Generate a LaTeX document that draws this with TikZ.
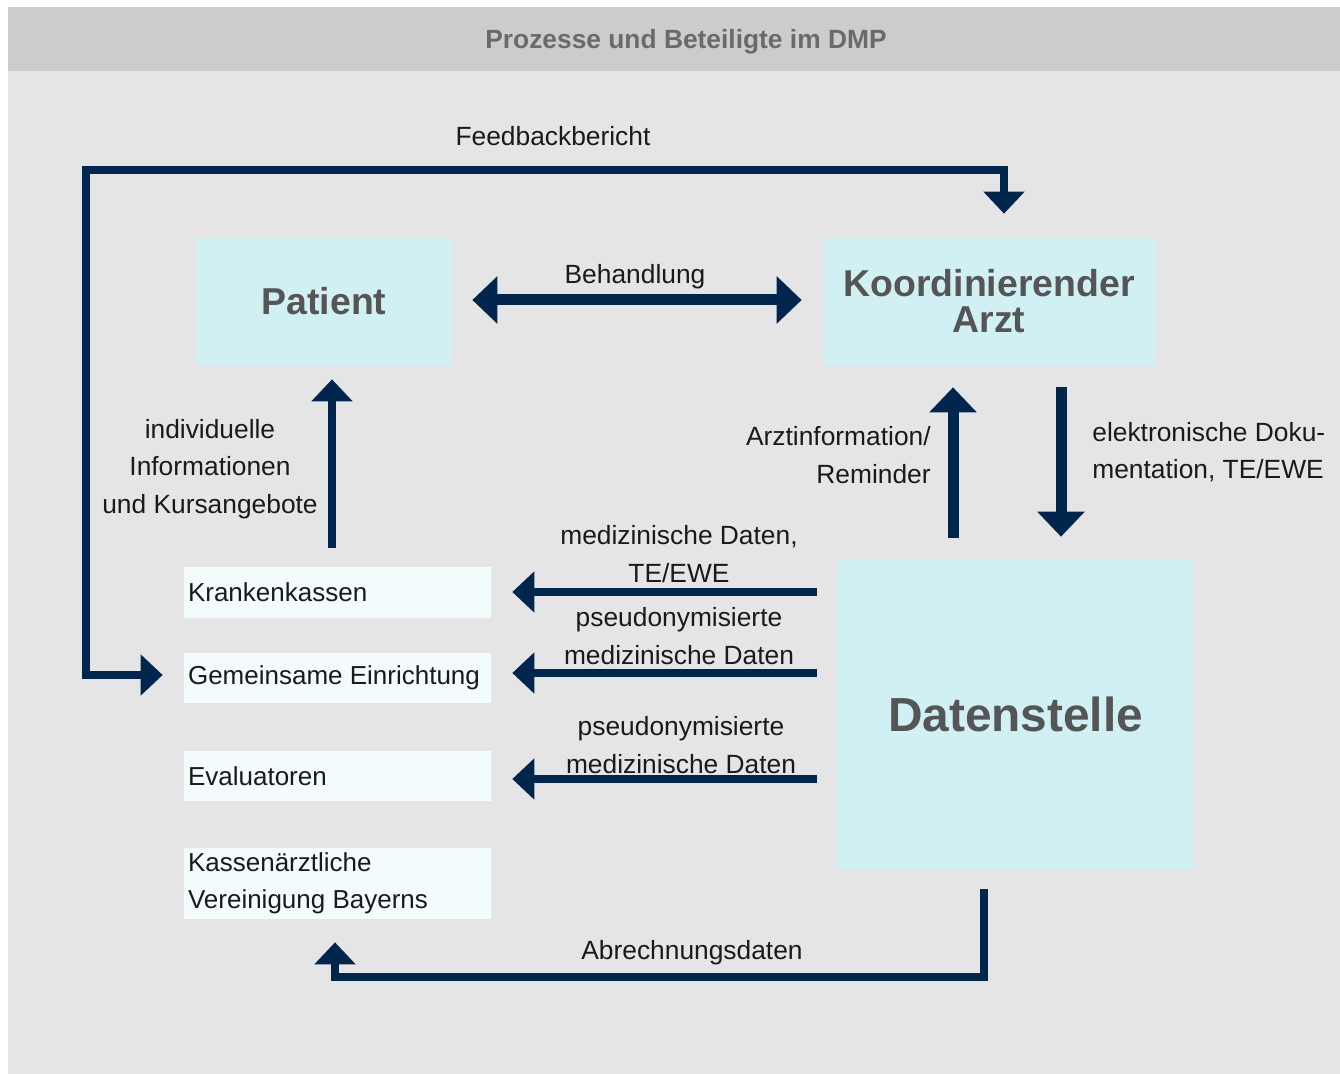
\documentclass[tikz,border=0pt]{standalone}
\usepackage{fontspec}
\setmainfont{Liberation Sans}
\usetikzlibrary{arrows.meta,positioning}
\definecolor{navy}{HTML}{00264D}
\definecolor{panel}{HTML}{E5E5E5}
\definecolor{titlebar}{HTML}{CCCCCC}
\definecolor{titletext}{HTML}{6A6A6A}
\definecolor{headtext}{HTML}{555555}
\definecolor{cyanbox}{HTML}{D0F0F3}
\definecolor{palebox}{HTML}{F2FCFC}
\definecolor{ink}{HTML}{1A1A1A}
\tikzset{
  bigbox/.style={fill=cyanbox, minimum height=2.54cm, inner sep=0pt, align=center,
    text=headtext, font=\bfseries\fontsize{21.3pt}{20.4pt}\selectfont},
  smallbox/.style={fill=palebox, minimum width=6.14cm, text width=5.98cm, inner xsep=0.08cm,
    inner ysep=0pt, align=flush left, text=ink, font=\fontsize{14.8pt}{21pt}\selectfont},
  lbl/.style={inner sep=0pt, text=ink, font=\fontsize{15pt}{21.3pt}\selectfont},
  flow/.style={draw=navy, line width=0.16cm, >={Triangle[width=0.8cm,length=0.44cm]}},
  thickflow/.style={draw=navy, line width=0.22cm, >={Triangle[width=0.92cm,length=0.5cm]}},
}
\begin{document}
\begin{tikzpicture}[x=0.02cm, y=-0.02cm]
        \useasboundingbox (0,0) rectangle (1340,1074);
        \fill[panel] (8,71) rectangle (1340,1074);
        \fill[titlebar] (8,7) rectangle (1340,71);
        \node[inner sep=0pt, text=titletext, font=\bfseries\fontsize{15pt}{18pt}\selectfont] (title) at (686,42) {Prozesse und Beteiligte im DMP};

        % boxes
        \node[bigbox, minimum width=5.08cm] (pat) at (324,301.5) {Patient};
        \node[bigbox, minimum width=6.64cm] (arzt) at (989,301.5) {Koordinierender\\Arzt};
        \node[bigbox, minimum width=7.1cm, minimum height=6.2cm, font=\bfseries\fontsize{27.2pt}{30pt}\selectfont] (ds) at (1015.5,714) {Datenstelle};
        \node[smallbox, minimum height=1.02cm] (kk) at (337.5,592.5) {Krankenkassen};
        \node[smallbox, minimum height=1.0cm] (gem) at (337.5,678) {Gemeinsame Einrichtung};
        \node[smallbox, minimum height=1.0cm] (eva) at (337.5,776) {Evaluatoren};
        \node[smallbox, minimum height=1.42cm] (kv) at (337.5,883.5) {Kassenärztliche\\Vereinigung Bayerns};

        % labels
        \node[lbl] (fb) at (553,136) {Feedbackbericht};
        \node[lbl] (beh) at (635,277) {Behandlung};
        \node[lbl, align=center] (info) at (210,469) {individuelle\\Informationen\\und Kursangebote};
        \node[lbl, align=right, anchor=east] (remind) at (931,455) {Arztinformation/\\Reminder};
        \node[lbl, align=left, anchor=west] (doku) at (1092,452) {elektronische Doku-\\mentation, TE/EWE};
        \node[lbl, align=center] (med) at (679,554) {medizinische Daten,\\TE/EWE};
        \node[lbl, align=center] (pseudoa) at (679,636) {pseudonymisierte\\medizinische Daten};
        \node[lbl, align=center] (pseudob) at (681,745) {pseudonymisierte\\medizinische Daten};
        \node[lbl] (abr) at (692,953) {Abrechnungsdaten};

        % connectors
        \draw[flow, <->, shorten <=0.42cm, shorten >=0.48cm] ([yshift=0.06cm]gem.west) -| (86,170) -| ([xshift=0.3cm]arzt.north);
        \draw[thickflow, <->, shorten <=0.42cm, shorten >=0.42cm] (pat.east |- 0,300) -- (arzt.west |- 0,300);
        \draw[flow, ->, shorten <=0.38cm, shorten >=0.28cm] (kk.north -| 332,0) -- (pat.south -| 332,0);
        \draw[thickflow, ->, shorten <=0.42cm, shorten >=0.44cm] (ds.north -| 953,0) -- (arzt.south -| 953,0);
        \draw[thickflow, ->, shorten <=0.44cm, shorten >=0.44cm] (arzt.south -| 1061,0) -- (ds.north -| 1061,0);
        \draw[flow, ->, shorten <=0.42cm, shorten >=0.42cm] (ds.west |- 0,592) -- (kk.east |- 0,592);
        \draw[flow, ->, shorten <=0.42cm, shorten >=0.42cm] (ds.west |- 0,673) -- (gem.east |- 0,673);
        \draw[flow, ->, shorten <=0.42cm, shorten >=0.42cm] (ds.west |- 0,779) -- (eva.east |- 0,779);
        \draw[flow, ->, shorten <=0.4cm, shorten >=0.46cm] ([xshift=-0.63cm]ds.south) -- ++(0,108) -| ([xshift=-0.05cm]kv.south);
\end{tikzpicture}
\end{document}
